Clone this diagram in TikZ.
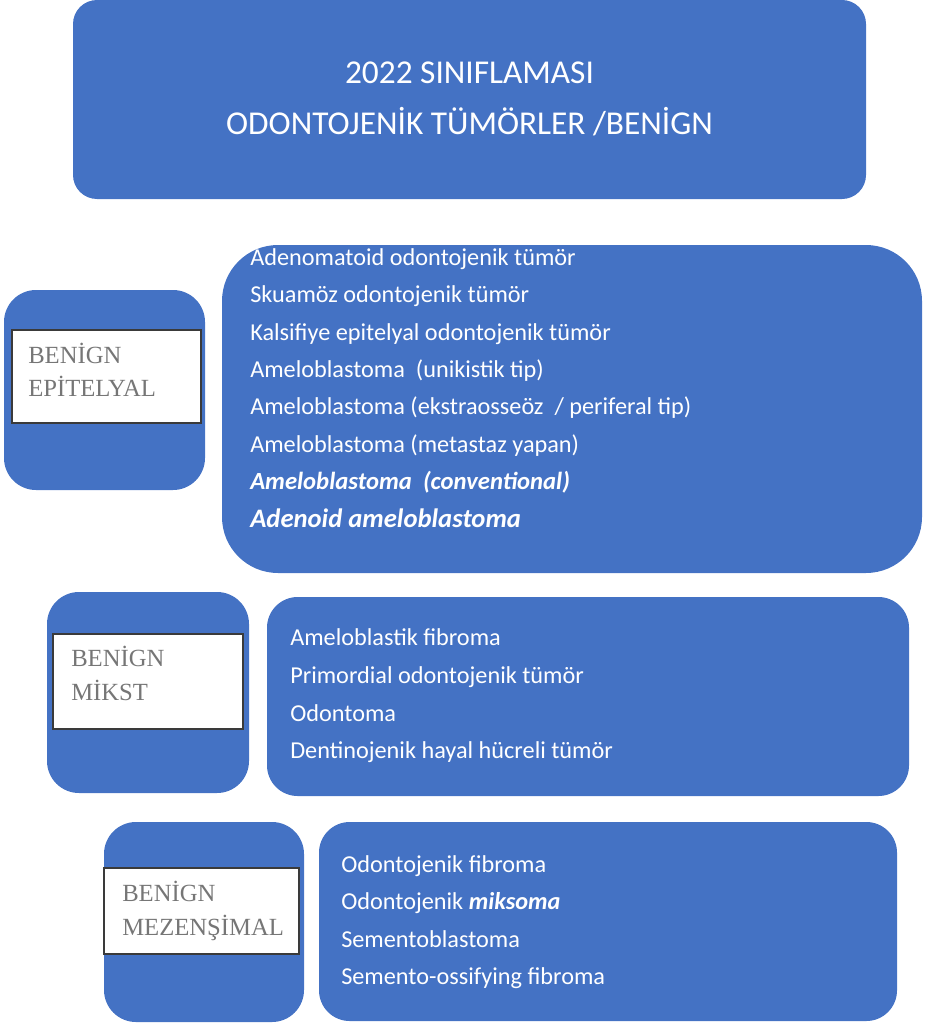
\documentclass[tikz,border=0pt]{standalone}
\usepackage{fontspec}
\setmainfont{Carlito}
\newfontfamily\labelserif{Liberation Serif}
\usetikzlibrary{fit}
\definecolor{boxblue}{HTML}{4472C4}
\definecolor{labelgray}{HTML}{767676}
\definecolor{frame}{HTML}{3A3A3A}
\begin{document}
\begin{tikzpicture}[x=0.75pt,y=-0.75pt,
  bluebox/.style={fill=boxblue, draw=none, inner sep=0pt},
  whitebox/.style={fill=white, draw=frame, line width=0.9pt, inner sep=0pt},
  item/.style={anchor=base west, inner sep=0pt, text=white, font=\fontsize{18.2}{22}\selectfont},
  titletext/.style={anchor=base, inner sep=0pt, text=white, font=\fontsize{25}{30}\selectfont},
  catlabel/.style={anchor=base west, inner sep=0pt, text=labelgray, font=\labelserif\fontsize{18.5}{22}\selectfont}]
\useasboundingbox (0,0) rectangle (925,1024);

% title
\node[bluebox, rounded corners=18pt, fit={(73,0) (866,199)}] (title) {};
\node[titletext] (t1) at (469.5,84) {2022 SINIFLAMASI};
\node[titletext] (t2) at (469.5,134) {ODONTOJENİK TÜMÖRLER /BENİGN};

% epitelyal
\node[bluebox, rounded corners=24pt, fit={(4,290) (205,490)}] (epiL) {};
\node[whitebox, fit={(12,330) (201,423)}] (epiW) {};
\node[catlabel] (epi1) at (28,363) {BENİGN};
\node[catlabel] (epi2) at (28,396) {EPİTELYAL};
\node[bluebox, rounded corners=42pt, fit={(222,245) (922,573)}] (epiR) {};
\node[item] (e1) at (250,265) {Adenomatoid odontojenik tümör};
\node[item] (e2) at (250,302.5) {Skuamöz odontojenik tümör};
\node[item] (e3) at (250,340) {Kalsifiye epitelyal odontojenik tümör};
\node[item] (e4) at (250,377) {Ameloblastoma\ \ (unikistik tip)};
\node[item] (e5) at (250,414.5) {Ameloblastoma (ekstraosseöz\ \ / periferal tip)};
\node[item] (e6) at (250,452) {Ameloblastoma (metastaz yapan)};
\node[item, font=\fontsize{18.5}{22}\selectfont] (e7) at (250,489.5) {\textbf{\textit{Ameloblastoma\ \ (conventional)}}};
\node[item, font=\fontsize{20}{24}\selectfont] (e8) at (250,527) {\textbf{\textit{Adenoid ameloblastoma}}};

% mikst
\node[bluebox, rounded corners=24pt, fit={(47,592) (249,793)}] (mikL) {};
\node[whitebox, fit={(53,634) (243,729)}] (mikW) {};
\node[catlabel] (mik1) at (71,666) {BENİGN};
\node[catlabel] (mik2) at (71,700) {MİKST};
\node[bluebox, rounded corners=23pt, fit={(267,597) (909,796)}] (mikR) {};
\node[item] (m1) at (290,645) {Ameloblastik fibroma};
\node[item] (m2) at (290,683) {Primordial odontojenik tümör};
\node[item] (m3) at (290,721) {Odontoma};
\node[item] (m4) at (290,758) {Dentinojenik hayal hücreli tümör};

% mezenşimal
\node[bluebox, rounded corners=24pt, fit={(104,822) (304,1022)}] (mezL) {};
\node[whitebox, fit={(104,868) (299,954)}] (mezW) {};
\node[catlabel] (mez1) at (122,901) {BENİGN};
\node[catlabel] (mez2) at (122,935) {MEZENŞİMAL};
\node[bluebox, rounded corners=23pt, fit={(319,822) (897,1021)}] (mezR) {};
\node[item] (z1) at (341,872) {Odontojenik fibroma};
\node[item] (z2) at (341,909) {Odontojenik \textbf{\textit{miksoma}}};
\node[item] (z3) at (341,947) {Sementoblastoma};
\node[item] (z4) at (341,984) {Semento-ossifying fibroma};
\end{tikzpicture}
\end{document}
